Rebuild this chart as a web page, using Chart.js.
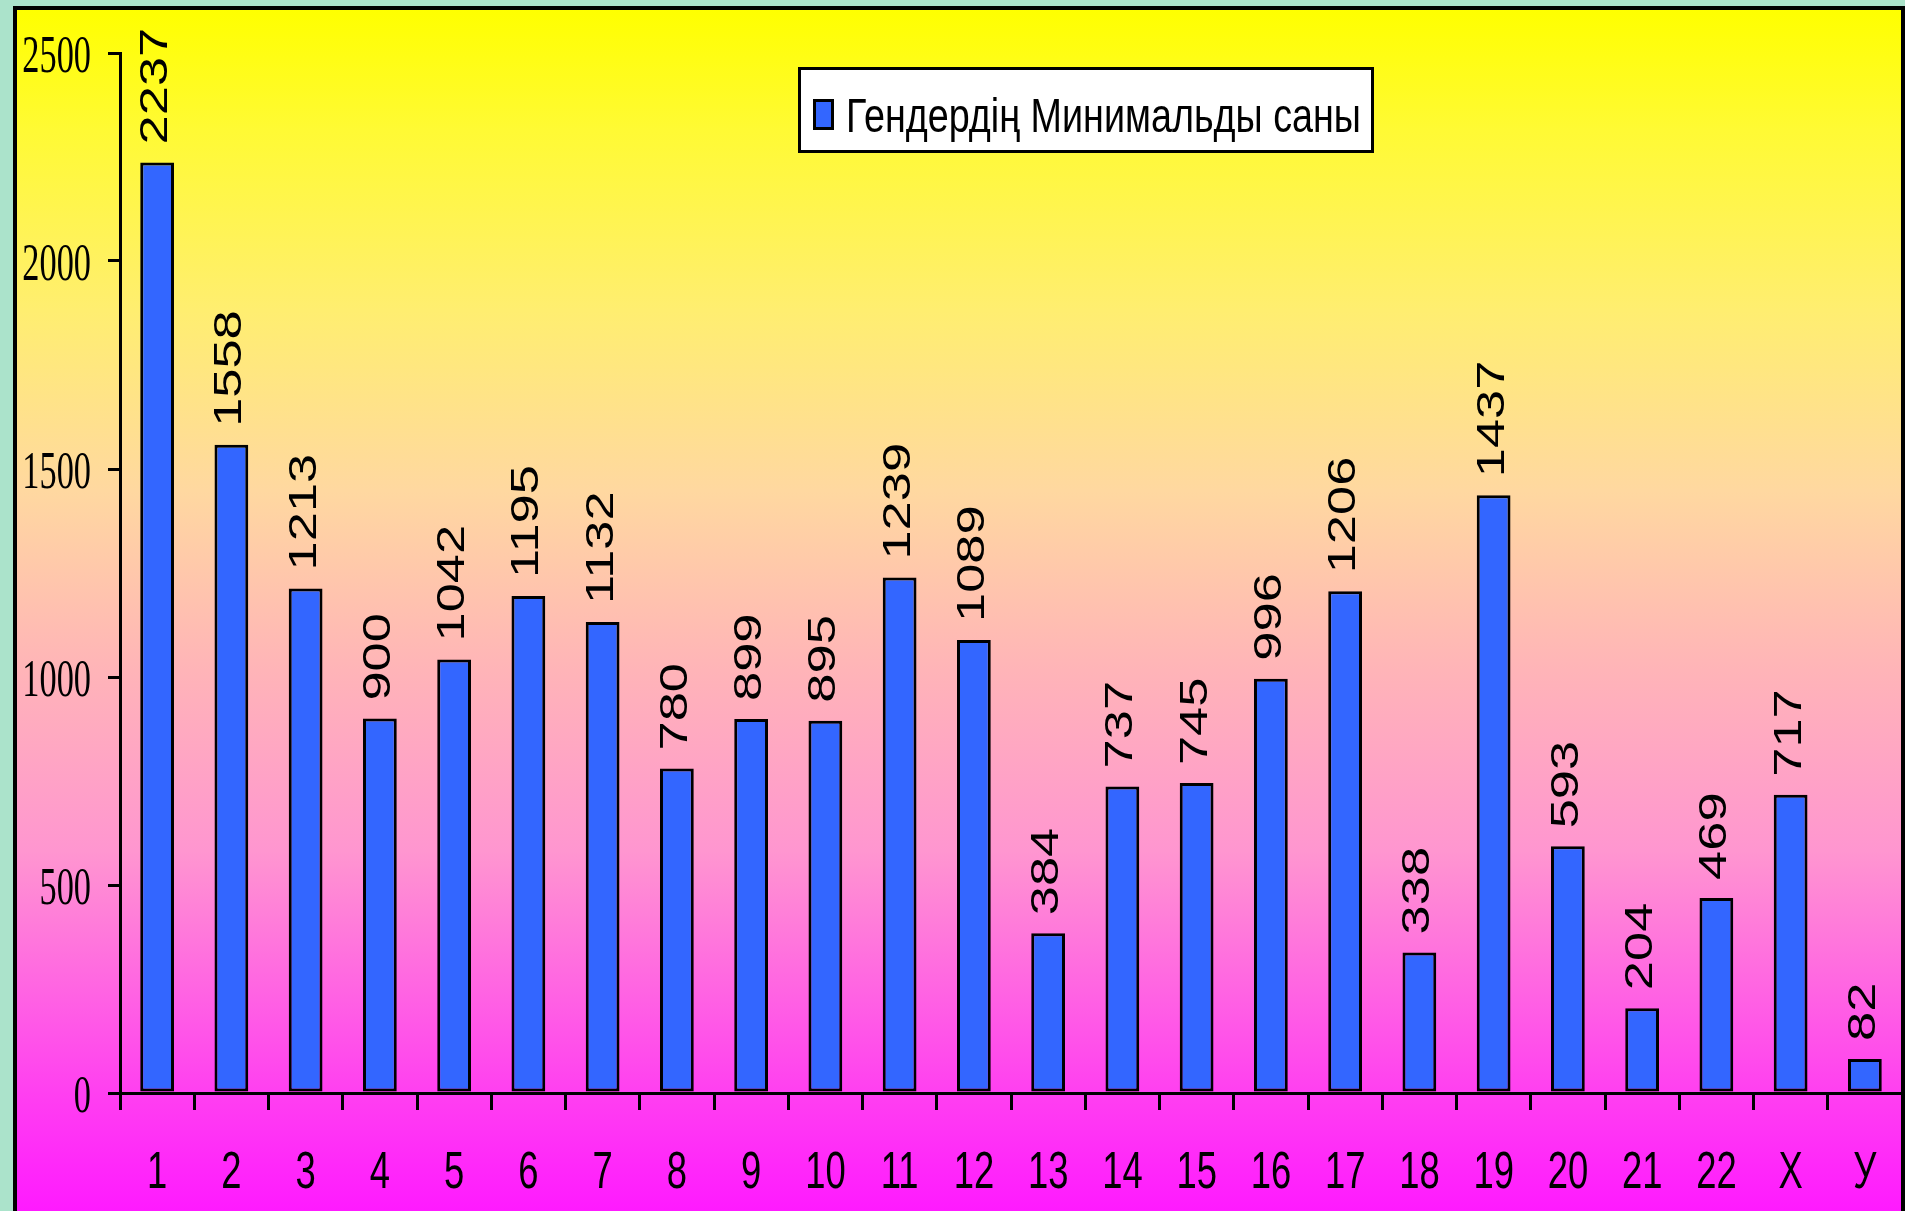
<!DOCTYPE html>
<html>
<head>
<meta charset="utf-8">
<title>Гендердің Минимальды саны</title>
<script src="https://cdn.jsdelivr.net/npm/chart.js@4.4.1/dist/chart.umd.min.js"></script>
<style>
  html, body { margin: 0; padding: 0; background: #ABE3CB; overflow: hidden; }
  canvas { display: block; }
</style>
</head>
<body>
<canvas id="chart" width="1905" height="1211"></canvas>
<script>
// Chromosome labels and the minimal gene count per chromosome
const categories = ['1','2','3','4','5','6','7','8','9','10','11','12','13','14','15','16','17','18','19','20','21','22','X','У'];
const geneCounts = [2237,1558,1213,900,1042,1195,1132,780,899,895,1239,1089,384,737,745,996,1206,338,1437,593,204,469,717,82];
const seriesName = 'Гендердің Минимальды саны';
const yMin = 0;
const yMax = 2500;
const yStep = 500;

const BAR_BLUE = '#3366FF';

// Framed panel with the vertical yellow-to-magenta fill
const panelBackground = {
  id: 'panelBackground',
  beforeDraw(chart) {
    const ctx = chart.ctx;
    const W = chart.width, H = chart.height;
    ctx.save();
    ctx.fillStyle = '#ABE3CB';
    ctx.fillRect(0, 0, W, H);
    const g = ctx.createLinearGradient(0, 10, 0, H);
    g.addColorStop(0.00, '#FFFF00');
    g.addColorStop(0.10, '#FFFA34');
    g.addColorStop(0.25, '#FFEE70');
    g.addColorStop(0.40, '#FFD8A0');
    g.addColorStop(0.55, '#FFB4B8');
    g.addColorStop(0.70, '#FF96D0');
    g.addColorStop(0.90, '#FF40F0');
    g.addColorStop(1.00, '#FF1AFF');
    ctx.fillStyle = g;
    ctx.fillRect(15, 8, W - 17, H);
    ctx.strokeStyle = '#000';
    ctx.lineWidth = 4;
    ctx.strokeRect(15, 8, 1888, H + 20);
    ctx.restore();
  }
};

// Narrow, tall lettering for the axis labels, value labels and legend
function drawText(ctx, text, x, y, opts) {
  ctx.save();
  ctx.translate(x, y);
  if (opts.rotate) ctx.rotate(opts.rotate);
  ctx.scale(opts.sx || 1, opts.sy || 1);
  ctx.font = opts.font;
  ctx.fillStyle = '#000';
  ctx.textAlign = opts.align || 'left';
  ctx.textBaseline = opts.baseline || 'alphabetic';
  ctx.fillText(text, opts.dx || 0, opts.dy || 0);
  ctx.restore();
}

const chartText = {
  id: 'chartText',
  afterDraw(chart) {
    const ctx = chart.ctx;
    const xs = chart.scales.x, ys = chart.scales.y;

    // value axis labels
    ys.ticks.forEach(t => {
      const y = ys.getPixelForValue(t.value);
      drawText(ctx, String(t.value), 91, y + 19, {
        font: '52px "Liberation Serif"', sx: 0.66, align: 'right'
      });
    });

    // category labels
    chart.data.labels.forEach((lab, i) => {
      const x = xs.getPixelForValue(i);
      drawText(ctx, lab, x, 1188, {
        font: '52px "Liberation Sans"', sx: 0.70, align: 'center'
      });
    });

    // rotated value labels above each bar
    const meta = chart.getDatasetMeta(0);
    const data = chart.data.datasets[0].data;
    meta.data.forEach((bar, i) => {
      drawText(ctx, String(data[i]), bar.x, bar.y - 18, {
        font: '38px "Liberation Sans"', rotate: -Math.PI / 2, sx: 1.38,
        align: 'left', dy: 10
      });
    });

    // legend box
    ctx.save();
    ctx.fillStyle = '#FFFFFF';
    ctx.fillRect(798, 67, 576, 86);
    ctx.strokeStyle = '#000';
    ctx.lineWidth = 3;
    ctx.strokeRect(799.5, 68.5, 573, 83);
    ctx.fillStyle = BAR_BLUE;
    ctx.fillRect(813, 99, 21, 31);
    ctx.lineWidth = 3;
    ctx.strokeRect(814.5, 100.5, 18, 28);
    ctx.restore();
    drawText(ctx, chart.data.datasets[0].label, 846, 132, {
      font: '49px "Liberation Sans"', sx: 0.77, align: 'left'
    });
  }
};

new Chart(document.getElementById('chart'), {
  type: 'bar',
  data: {
    labels: categories,
    datasets: [{
      label: seriesName,
      data: geneCounts,
      backgroundColor: BAR_BLUE,
      borderColor: '#000000',
      borderWidth: 3,
      borderSkipped: false,
      barPercentage: 0.455,
      categoryPercentage: 1.0
    }]
  },
  options: {
    responsive: false,
    animation: false,
    devicePixelRatio: 1,
    layout: { padding: { top: 53, left: 0, right: 3, bottom: 0 } },
    plugins: {
      legend: { display: false },
      tooltip: { enabled: false }
    },
    scales: {
      x: {
        offset: true,
        grid: {
          display: true, offset: true, drawOnChartArea: false, drawTicks: true,
          tickLength: 17, color: '#000', lineWidth: 3
        },
        border: { display: true, color: '#000', width: 3 },
        ticks: { display: false },
        afterFit(scale) { scale.height = 118; }
      },
      y: {
        min: yMin,
        max: yMax,
        ticks: { display: false, stepSize: yStep },
        grid: {
          display: true, drawOnChartArea: false, drawTicks: true,
          tickLength: 12, color: '#000', lineWidth: 3
        },
        border: { display: true, color: '#000', width: 3 },
        afterFit(scale) { scale.width = 120; }
      }
    }
  },
  plugins: [panelBackground, chartText]
});
</script>
</body>
</html>
